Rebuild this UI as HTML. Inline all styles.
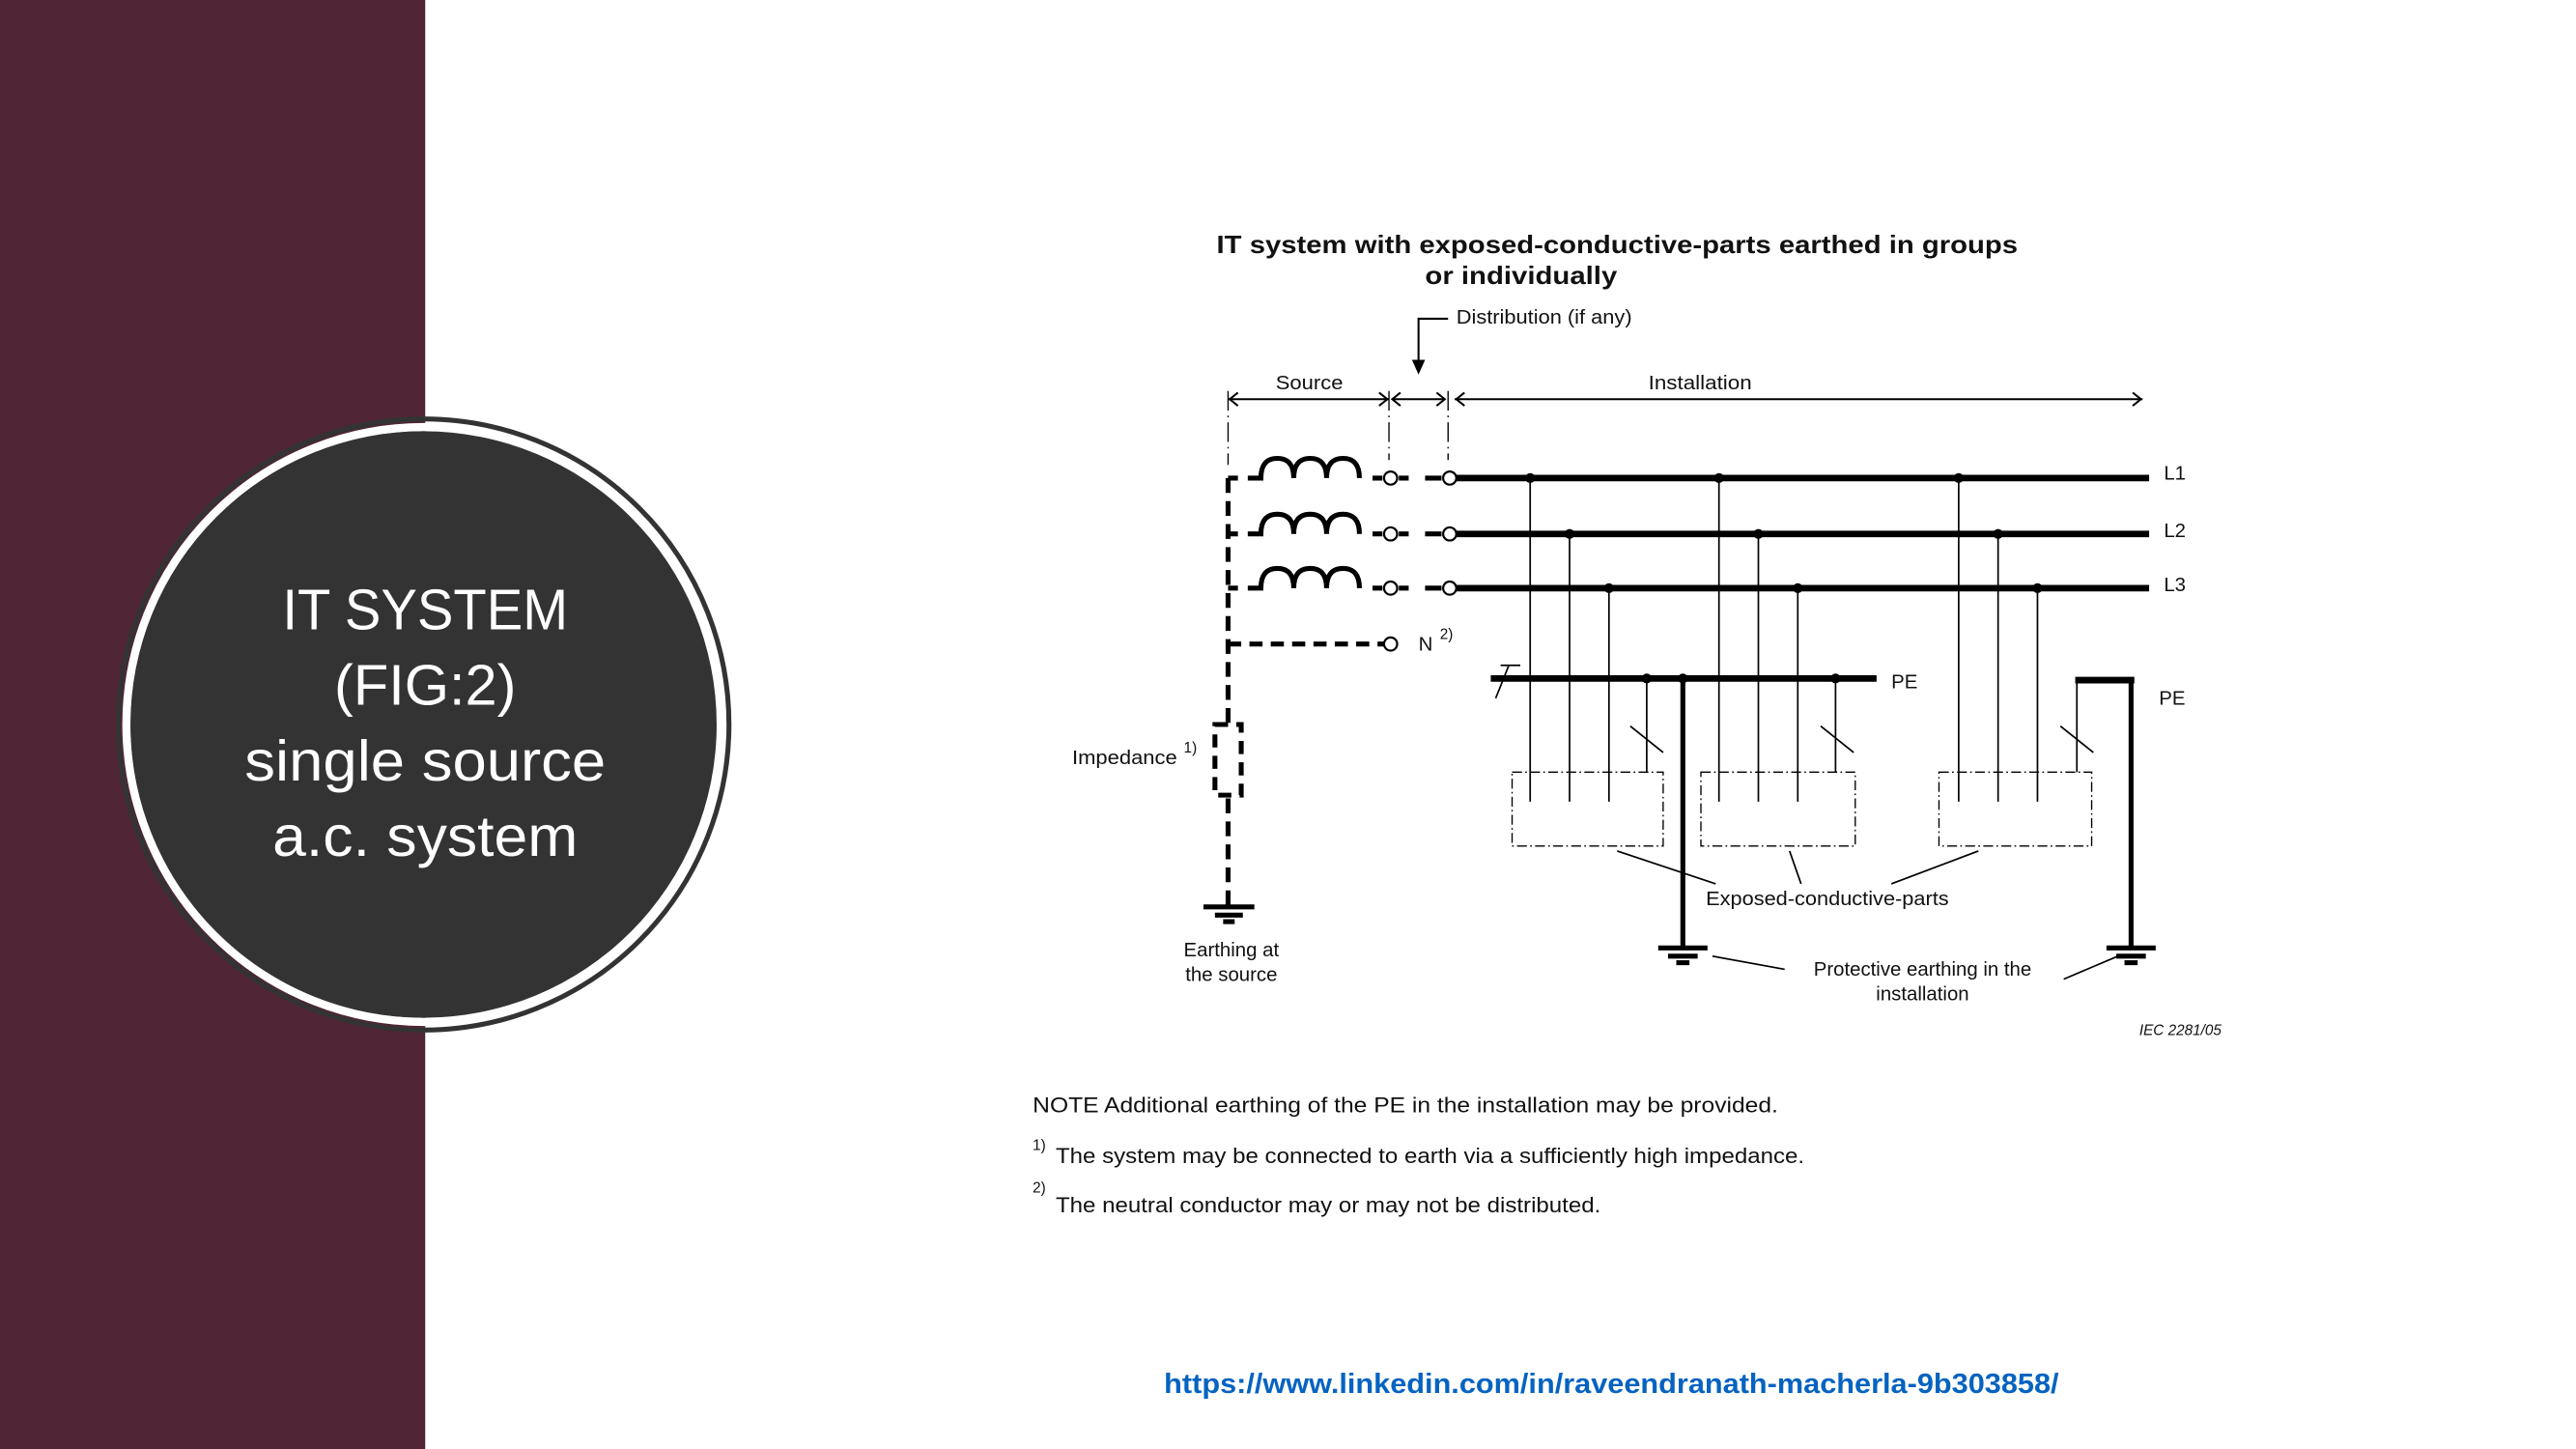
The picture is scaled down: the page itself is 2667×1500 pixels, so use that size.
<!DOCTYPE html>
<html><head><meta charset="utf-8"><style>
html,body{margin:0;padding:0;background:#fff;}
svg{display:block;}
text{font-family:"Liberation Sans",Arial,sans-serif;}
</style></head><body>
<svg width="2667" height="1500" viewBox="0 0 1569 882" preserveAspectRatio="none" xmlns="http://www.w3.org/2000/svg">
<rect x="0" y="0" width="1569" height="882" fill="#fff"/>
<rect x="0" y="0" width="259" height="882" fill="#4f2536"/>
<circle cx="258" cy="441" r="186" fill="none" stroke="#333" stroke-width="3"/>
<circle cx="258" cy="441" r="181" fill="none" stroke="#fff" stroke-width="5"/>
<circle cx="258" cy="441" r="178.5" fill="#333"/>
<g fill="#fff" font-size="35" text-anchor="middle">
<text x="259" y="383" textLength="174" lengthAdjust="spacingAndGlyphs">IT SYSTEM</text>
<text x="259" y="429">(FIG:2)</text>
<text x="259" y="475" textLength="220" lengthAdjust="spacingAndGlyphs">single source</text>
<text x="259" y="521" textLength="186" lengthAdjust="spacingAndGlyphs">a.c. system</text>
</g>

<g fill="#111">
<text x="741" y="154" font-size="15" font-weight="bold" textLength="488" lengthAdjust="spacingAndGlyphs">IT system with exposed-conductive-parts earthed in groups</text>
<text x="868" y="173" font-size="15" font-weight="bold" textLength="117" lengthAdjust="spacingAndGlyphs">or individually</text>
<text x="887" y="197" font-size="12" textLength="107" lengthAdjust="spacingAndGlyphs">Distribution (if any)</text>
<text x="777" y="237" font-size="12" textLength="41" lengthAdjust="spacingAndGlyphs">Source</text>
<text x="1004" y="237" font-size="12" textLength="63" lengthAdjust="spacingAndGlyphs">Installation</text>
<text x="1318" y="292" font-size="12">L1</text>
<text x="1318" y="327" font-size="12">L2</text>
<text x="1318" y="360" font-size="12">L3</text>
<text x="864" y="396" font-size="12">N</text>
<text x="877" y="389" font-size="9">2)</text>
<text x="1152" y="419" font-size="12">PE</text>
<text x="1315" y="429" font-size="12">PE</text>
<text x="653" y="465" font-size="12" textLength="64" lengthAdjust="spacingAndGlyphs">Impedance</text>
<text x="721" y="458" font-size="9">1)</text>
<text x="750" y="582" font-size="12" text-anchor="middle">Earthing at</text>
<text x="750" y="597" font-size="12" text-anchor="middle">the source</text>
<text x="1039" y="551" font-size="12" textLength="148" lengthAdjust="spacingAndGlyphs">Exposed-conductive-parts</text>
<text x="1171" y="594" font-size="12" text-anchor="middle">Protective earthing in the</text>
<text x="1171" y="609" font-size="12" text-anchor="middle">installation</text>
<text x="1303" y="630" font-size="9" font-style="italic">IEC  2281/05</text>
<text x="629" y="677" font-size="13" textLength="454" lengthAdjust="spacingAndGlyphs">NOTE   Additional earthing of the PE in the installation may be provided.</text>
<text x="629" y="700" font-size="9">1)</text>
<text x="643" y="708" font-size="13" textLength="456" lengthAdjust="spacingAndGlyphs">The system may be connected to earth via a sufficiently high impedance.</text>
<text x="629" y="726" font-size="9">2)</text>
<text x="643" y="738" font-size="13" textLength="332" lengthAdjust="spacingAndGlyphs">The neutral conductor may or may not be distributed.</text>
</g>
<text x="709" y="848" font-size="17" font-weight="bold" fill="#0563c1" textLength="545" lengthAdjust="spacingAndGlyphs">https://www.linkedin.com/in/raveendranath-macherla-9b303858/</text>

<g stroke="#000" fill="none">
<polyline points="882,194 864,194 864,222" stroke-width="1.2"/>
<polygon points="860,219 868,219 864,228" fill="#000" stroke="none"/>
<line x1="748" y1="243" x2="846" y2="243" stroke-width="1.2"/>
<line x1="848" y1="243" x2="880" y2="243" stroke-width="1.2"/>
<line x1="886" y1="243" x2="1305" y2="243" stroke-width="1.2"/>
<polyline points="754,239 749,243 754,247" stroke-width="1.2"/>
<polyline points="840,239 845,243 840,247" stroke-width="1.2"/>
<polyline points="853,239 848,243 853,247" stroke-width="1.2"/>
<polyline points="875,239 880,243 875,247" stroke-width="1.2"/>
<polyline points="892,239 887,243 892,247" stroke-width="1.2"/>
<polyline points="1299,239 1304,243 1299,247" stroke-width="1.2"/>
<g stroke-width="0.8" stroke-dasharray="12,3,1,3">
<line x1="748" y1="238" x2="748" y2="283"/>
<line x1="846" y1="238" x2="846" y2="280"/>
<line x1="882" y1="238" x2="882" y2="280"/>
</g>
<line x1="748" y1="291" x2="748" y2="440" stroke-width="3" stroke-dasharray="9,5"/>
<line x1="748" y1="486" x2="748" y2="548" stroke-width="3" stroke-dasharray="9,5"/>
<rect x="740" y="441" width="16" height="43" stroke-width="3" stroke-dasharray="8,5"/>
<g stroke-width="3">
<path d="M748,291 h6 M760,291 h8 q0,-12 10,-12 q10,0 10,12 q0,-12 10,-12 q10,0 10,12 q0,-12 10,-12 q10,0 10,12"/>
<path d="M748,325 h6 M760,325 h8 q0,-12 10,-12 q10,0 10,12 q0,-12 10,-12 q10,0 10,12 q0,-12 10,-12 q10,0 10,12"/>
<path d="M748,358 h6 M760,358 h8 q0,-12 10,-12 q10,0 10,12 q0,-12 10,-12 q10,0 10,12 q0,-12 10,-12 q10,0 10,12"/>
<path d="M836,291 h6 M852,291 h6 M868,291 h10"/>
<path d="M836,325 h6 M852,325 h6 M868,325 h10"/>
<path d="M836,358 h6 M852,358 h6 M868,358 h10"/>
<line x1="748" y1="392" x2="843" y2="392" stroke-dasharray="8,5"/>
</g>
<g stroke-width="1.3" fill="#fff">
<circle cx="847" cy="291" r="4"/><circle cx="883" cy="291" r="4"/>
<circle cx="847" cy="325" r="4"/><circle cx="883" cy="325" r="4"/>
<circle cx="847" cy="358" r="4"/><circle cx="883" cy="358" r="4"/>
<circle cx="847" cy="392" r="4"/>
</g>
<g stroke-width="4">
<line x1="887" y1="291" x2="1309" y2="291"/>
<line x1="887" y1="325" x2="1309" y2="325"/>
<line x1="887" y1="358" x2="1309" y2="358"/>
<line x1="908" y1="413" x2="1143" y2="413"/>
<line x1="1264" y1="414" x2="1300" y2="414"/>
</g>
<g stroke-width="1">
<line x1="932" y1="291" x2="932" y2="488"/><line x1="956" y1="325" x2="956" y2="488"/><line x1="980" y1="358" x2="980" y2="488"/>
<line x1="1047" y1="291" x2="1047" y2="488"/><line x1="1071" y1="325" x2="1071" y2="488"/><line x1="1095" y1="358" x2="1095" y2="488"/>
<line x1="1193" y1="291" x2="1193" y2="488"/><line x1="1217" y1="325" x2="1217" y2="488"/><line x1="1241" y1="358" x2="1241" y2="488"/>
<line x1="1003" y1="413" x2="1003" y2="470"/><line x1="1118" y1="413" x2="1118" y2="470"/><line x1="1265" y1="414" x2="1265" y2="470"/>
<line x1="993" y1="442" x2="1013" y2="458"/><line x1="1109" y1="442" x2="1129" y2="458"/><line x1="1255" y1="442" x2="1275" y2="458"/>
<line x1="919" y1="405" x2="911" y2="425"/><line x1="914" y1="405" x2="926" y2="405"/>
</g>
<g stroke-width="3">
<line x1="1025" y1="413" x2="1025" y2="577"/>
<line x1="1298" y1="413" x2="1298" y2="577"/>
</g>
<g stroke-width="0.8" stroke-dasharray="6,2,1,2">
<rect x="921" y="470" width="92" height="45"/>
<rect x="1036" y="470" width="94" height="45"/>
<rect x="1181" y="470" width="93" height="45"/>
</g>
<g stroke-width="3">
<line x1="748" y1="548" x2="748" y2="552"/>
<line x1="733" y1="552" x2="764" y2="552"/><line x1="740" y1="557" x2="757" y2="557"/><line x1="745" y1="561" x2="752" y2="561"/>
<line x1="1010" y1="577" x2="1040" y2="577"/><line x1="1016" y1="582" x2="1034" y2="582"/><line x1="1021" y1="586" x2="1029" y2="586"/>
<line x1="1283" y1="577" x2="1313" y2="577"/><line x1="1289" y1="582" x2="1307" y2="582"/><line x1="1294" y1="586" x2="1302" y2="586"/>
</g>
<g stroke-width="1">
<line x1="985" y1="518" x2="1045" y2="538"/>
<line x1="1090" y1="518" x2="1097" y2="538"/>
<line x1="1205" y1="518" x2="1152" y2="538"/>
<line x1="1043" y1="582" x2="1087" y2="590"/>
<line x1="1257" y1="596" x2="1290" y2="582"/>
</g>
</g>
<g fill="#000">
<circle cx="932" cy="291" r="3"/><circle cx="1047" cy="291" r="3"/><circle cx="1193" cy="291" r="3"/>
<circle cx="956" cy="325" r="3"/><circle cx="1071" cy="325" r="3"/><circle cx="1217" cy="325" r="3"/>
<circle cx="980" cy="358" r="3"/><circle cx="1095" cy="358" r="3"/><circle cx="1241" cy="358" r="3"/>
<circle cx="1003" cy="413" r="3"/><circle cx="1025" cy="413" r="3"/><circle cx="1118" cy="413" r="3"/>
</g>
</svg>
</body></html>
